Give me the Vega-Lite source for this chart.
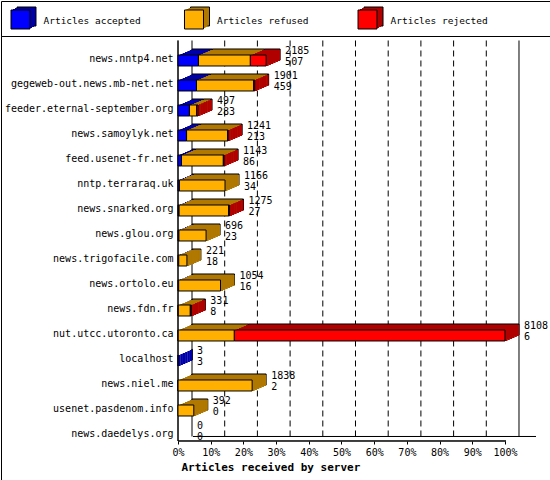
{
  "$schema": "https://vega.github.io/schema/vega-lite/v6.json",
  "padding": 0,
  "spacing": 0,
  "bounds": "flush",
  "background": "white",
  "config": {
    "font": "DejaVu Sans Mono",
    "view": {"stroke": "black", "strokeWidth": 1},
    "axis": {"domainColor": "black", "tickColor": "black", "labelColor": "black", "titleColor": "black", "grid": false}
  },
  "datasets": {
    "types": [
      {"type": "Articles accepted"},
      {"type": "Articles refused"},
      {"type": "Articles rejected"}
    ],
    "segments": [
      {"server": "news.nntp4.net", "type": "Articles accepted", "n": 507},
      {"server": "news.nntp4.net", "type": "Articles refused", "n": 1287},
      {"server": "news.nntp4.net", "type": "Articles rejected", "n": 391},
      {"server": "gegeweb-out.news.mb-net.net", "type": "Articles accepted", "n": 459},
      {"server": "gegeweb-out.news.mb-net.net", "type": "Articles refused", "n": 1419},
      {"server": "gegeweb-out.news.mb-net.net", "type": "Articles rejected", "n": 23},
      {"server": "feeder.eternal-september.org", "type": "Articles accepted", "n": 283},
      {"server": "feeder.eternal-september.org", "type": "Articles refused", "n": 181},
      {"server": "feeder.eternal-september.org", "type": "Articles rejected", "n": 33},
      {"server": "news.samoylyk.net", "type": "Articles accepted", "n": 213},
      {"server": "news.samoylyk.net", "type": "Articles refused", "n": 1018},
      {"server": "news.samoylyk.net", "type": "Articles rejected", "n": 10},
      {"server": "feed.usenet-fr.net", "type": "Articles accepted", "n": 86},
      {"server": "feed.usenet-fr.net", "type": "Articles refused", "n": 1038},
      {"server": "feed.usenet-fr.net", "type": "Articles rejected", "n": 19},
      {"server": "nntp.terraraq.uk", "type": "Articles accepted", "n": 34},
      {"server": "nntp.terraraq.uk", "type": "Articles refused", "n": 1132},
      {"server": "news.snarked.org", "type": "Articles accepted", "n": 27},
      {"server": "news.snarked.org", "type": "Articles refused", "n": 1230},
      {"server": "news.snarked.org", "type": "Articles rejected", "n": 18},
      {"server": "news.glou.org", "type": "Articles accepted", "n": 23},
      {"server": "news.glou.org", "type": "Articles refused", "n": 673},
      {"server": "news.trigofacile.com", "type": "Articles accepted", "n": 18},
      {"server": "news.trigofacile.com", "type": "Articles refused", "n": 203},
      {"server": "news.ortolo.eu", "type": "Articles accepted", "n": 16},
      {"server": "news.ortolo.eu", "type": "Articles refused", "n": 1038},
      {"server": "news.fdn.fr", "type": "Articles accepted", "n": 8},
      {"server": "news.fdn.fr", "type": "Articles refused", "n": 297},
      {"server": "news.fdn.fr", "type": "Articles rejected", "n": 26},
      {"server": "nut.utcc.utoronto.ca", "type": "Articles accepted", "n": 6},
      {"server": "nut.utcc.utoronto.ca", "type": "Articles refused", "n": 1391},
      {"server": "nut.utcc.utoronto.ca", "type": "Articles rejected", "n": 6711},
      {"server": "localhost", "type": "Articles accepted", "n": 3},
      {"server": "news.niel.me", "type": "Articles accepted", "n": 2},
      {"server": "news.niel.me", "type": "Articles refused", "n": 1836},
      {"server": "usenet.pasdenom.info", "type": "Articles refused", "n": 392}
    ],
    "totals": [
      {"server": "news.nntp4.net", "total": 2185, "accepted": 507},
      {"server": "gegeweb-out.news.mb-net.net", "total": 1901, "accepted": 459},
      {"server": "feeder.eternal-september.org", "total": 497, "accepted": 283},
      {"server": "news.samoylyk.net", "total": 1241, "accepted": 213},
      {"server": "feed.usenet-fr.net", "total": 1143, "accepted": 86},
      {"server": "nntp.terraraq.uk", "total": 1166, "accepted": 34},
      {"server": "news.snarked.org", "total": 1275, "accepted": 27},
      {"server": "news.glou.org", "total": 696, "accepted": 23},
      {"server": "news.trigofacile.com", "total": 221, "accepted": 18},
      {"server": "news.ortolo.eu", "total": 1054, "accepted": 16},
      {"server": "news.fdn.fr", "total": 331, "accepted": 8},
      {"server": "nut.utcc.utoronto.ca", "total": 8108, "accepted": 6},
      {"server": "localhost", "total": 3, "accepted": 3},
      {"server": "news.niel.me", "total": 1838, "accepted": 2},
      {"server": "usenet.pasdenom.info", "total": 392, "accepted": 0},
      {"server": "news.daedelys.org", "total": 0, "accepted": 0}
    ],
    "grid": [
      {"v": 810.8}, {"v": 1621.6}, {"v": 2432.4}, {"v": 3243.2}, {"v": 4054},
      {"v": 4864.8}, {"v": 5675.6}, {"v": 6486.4}, {"v": 7297.2}
    ],
    "walls": [{"v": 0}, {"v": 8108}]
  },
  "vconcat": [
    {
      "width": 549,
      "height": 35,
      "data": {"name": "types"},
      "encoding": {
        "x": {
          "field": "type",
          "type": "nominal",
          "scale": {"type": "point", "padding": 0.582, "align": 0.0965},
          "axis": null
        }
      },
      "layer": [
        {
          "mark": {"type": "point", "shape": "square", "size": 361, "filled": true, "opacity": 1, "stroke": "black", "strokeWidth": 1, "xOffset": 6, "yOffset": -2},
          "encoding": {"fill": {"field": "type", "scale": {"domain": ["Articles accepted", "Articles refused", "Articles rejected"], "range": ["#0000a8", "#b07800", "#b00000"]}, "legend": null}}
        },
        {
          "mark": {"type": "point", "shape": "square", "size": 361, "filled": true, "opacity": 1, "strokeWidth": 0, "xOffset": 4, "yOffset": -1},
          "encoding": {"fill": {"field": "type", "legend": null}}
        },
        {
          "mark": {"type": "point", "shape": "square", "size": 361, "filled": true, "opacity": 1, "strokeWidth": 0, "xOffset": 2, "yOffset": 0},
          "encoding": {"fill": {"field": "type", "legend": null}}
        },
        {
          "mark": {"type": "point", "shape": "square", "size": 361, "filled": true, "opacity": 1, "stroke": "black", "strokeWidth": 1, "yOffset": 1},
          "encoding": {"color": {"field": "type", "scale": {"domain": ["Articles accepted", "Articles refused", "Articles rejected"], "range": ["#0000ff", "#ffb000", "#ff0000"]}, "legend": null}}
        },
        {
          "mark": {"type": "text", "align": "left", "baseline": "middle", "dx": 23, "dy": 2, "fontSize": 9.5, "color": "black"},
          "encoding": {"text": {"field": "type"}}
        }
      ]
    },
    {
      "width": 549,
      "height": 444,
      "layer": [
        {
          "data": {"name": "grid"},
          "mark": {"type": "rule", "color": "black", "strokeDash": [6, 4], "xOffset": 14, "yOffset": -13, "y2Offset": 8},
          "encoding": {
            "x": {"field": "v", "type": "quantitative"},
            "y": {"datum": "news.nntp4.net"},
            "y2": {"datum": "news.daedelys.org"}
          }
        },
        {
          "data": {"name": "walls"},
          "mark": {"type": "rule", "color": "black", "xOffset": 14, "yOffset": -13, "y2Offset": 8},
          "encoding": {
            "x": {"field": "v", "type": "quantitative"},
            "y": {"datum": "news.nntp4.net"},
            "y2": {"datum": "news.daedelys.org"}
          }
        },
        {
          "data": {"name": "walls"},
          "mark": {"type": "rule", "color": "black", "xOffset": 15, "x2Offset": 31, "yOffset": 8},
          "encoding": {
            "x": {"datum": 0},
            "x2": {"datum": 8108},
            "y": {"datum": "news.daedelys.org"}
          }
        },
        {
          "data": {"name": "walls"},
          "mark": {"type": "rule", "color": "black", "x2Offset": 1, "yOffset": 12.5},
          "encoding": {
            "x": {"datum": 0},
            "x2": {"datum": 8108},
            "y": {"datum": "news.daedelys.org"}
          }
        },
        {
          "data": {"name": "walls"},
          "mark": {"type": "rule", "color": "black", "yOffset": -13, "y2Offset": 12.5},
          "encoding": {
            "x": {"datum": 0},
            "y": {"datum": "news.nntp4.net"},
            "y2": {"datum": "news.daedelys.org"}
          }
        },
        {
          "data": {"name": "segments"},
          "encoding": {
            "x": {
              "field": "n",
              "type": "quantitative",
              "stack": "zero",
              "title": "Articles received by server",
              "scale": {"domain": [-4388.9, 9223.9], "nice": false, "zero": false},
              "axis": {
                "orient": "bottom",
                "offset": -39,
                "domain": false,
                "values": [0, 810.8, 1621.6, 2432.4, 3243.2, 4054, 4864.8, 5675.6, 6486.4, 7297.2, 8108],
                "labelExpr": "format(datum.value / 8108, '.0%')",
                "labelFontSize": 10,
                "labelPadding": 3,
                "tickSize": 3,
                "labelFlush": false,
                "labelOverlap": false,
                "titleFontSize": 11,
                "titleFontWeight": "bold",
                "titleAlign": "left",
                "titleBaseline": "alphabetic",
                "titleX": 180,
                "titleY": 29
              }
            },
            "y": {
              "field": "server",
              "type": "nominal",
              "title": null,
              "scale": {
                "domain": ["news.nntp4.net", "gegeweb-out.news.mb-net.net", "feeder.eternal-september.org", "news.samoylyk.net", "feed.usenet-fr.net", "nntp.terraraq.uk", "news.snarked.org", "news.glou.org", "news.trigofacile.com", "news.ortolo.eu", "news.fdn.fr", "nut.utcc.utoronto.ca", "localhost", "news.niel.me", "usenet.pasdenom.info", "news.daedelys.org"],
                "paddingInner": 0,
                "paddingOuter": 0.88,
                "align": 0.1136
              },
              "axis": {
                "orient": "left",
                "offset": -177,
                "domain": false,
                "ticks": false,
                "labelFontSize": 10,
                "labelPadding": 5,
                "labelOffset": 6,
                "labelLimit": 220
              }
            },
            "order": {"field": "type"}
          },
          "layer": [
            {
              "mark": {"type": "bar", "size": 11, "stroke": "black", "strokeWidth": 1, "xOffset": 14, "yOffset": 1},
              "encoding": {"fill": {"field": "type", "scale": {"domain": ["Articles accepted", "Articles refused", "Articles rejected"], "range": ["#0000a8", "#b07800", "#b00000"]}, "legend": null}}
            },
            {
              "mark": {"type": "bar", "size": 11, "strokeWidth": 0, "xOffset": 11.667, "yOffset": 2},
              "encoding": {"fill": {"field": "type", "legend": null}}
            },
            {
              "mark": {"type": "bar", "size": 11, "strokeWidth": 0, "xOffset": 9.333, "yOffset": 3},
              "encoding": {"fill": {"field": "type", "legend": null}}
            },
            {
              "mark": {"type": "bar", "size": 11, "strokeWidth": 0, "xOffset": 7, "yOffset": 4},
              "encoding": {"fill": {"field": "type", "legend": null}}
            },
            {
              "mark": {"type": "bar", "size": 11, "strokeWidth": 0, "xOffset": 4.667, "yOffset": 5},
              "encoding": {"fill": {"field": "type", "legend": null}}
            },
            {
              "mark": {"type": "bar", "size": 11, "strokeWidth": 0, "xOffset": 2.333, "yOffset": 6},
              "encoding": {"fill": {"field": "type", "legend": null}}
            }
          ]
        },
        {
          "data": {"name": "segments"},
          "transform": [
            {"joinaggregate": [{"op": "sum", "field": "n", "as": "total"}], "groupby": ["server"]},
            {"window": [{"op": "row_number", "as": "rank"}], "groupby": ["server"], "sort": [{"field": "type", "order": "descending"}]},
            {"filter": "datum.rank == 1"}
          ],
          "encoding": {
            "x": {"field": "total", "type": "quantitative"},
            "x2": {"field": "total"},
            "y": {"field": "server", "type": "nominal"},
            "fill": {"field": "type", "legend": null}
          },
          "layer": [
            {"mark": {"type": "bar", "size": 11, "strokeWidth": 0, "xOffset": 11.667, "x2Offset": 14, "yOffset": 2}},
            {"mark": {"type": "bar", "size": 11, "strokeWidth": 0, "xOffset": 9.333, "x2Offset": 11.8, "yOffset": 3}},
            {"mark": {"type": "bar", "size": 11, "strokeWidth": 0, "xOffset": 7, "x2Offset": 9.5, "yOffset": 4}},
            {"mark": {"type": "bar", "size": 11, "strokeWidth": 0, "xOffset": 4.667, "x2Offset": 7.2, "yOffset": 5}},
            {"mark": {"type": "bar", "size": 11, "strokeWidth": 0, "xOffset": 2.333, "x2Offset": 4.8, "yOffset": 6}},
            {"mark": {"type": "bar", "size": 11, "strokeWidth": 0, "xOffset": 0, "x2Offset": 2.5, "yOffset": 7}}
          ]
        },
        {
          "data": {"name": "segments"},
          "mark": {"type": "bar", "size": 11, "stroke": "black", "strokeWidth": 1, "yOffset": 7, "opacity": 1},
          "encoding": {
            "x": {"field": "n", "type": "quantitative", "stack": "zero"},
            "y": {"field": "server", "type": "nominal"},
            "order": {"field": "type"},
            "color": {"field": "type", "scale": {"domain": ["Articles accepted", "Articles refused", "Articles rejected"], "range": ["#0000ff", "#ffb000", "#ff0000"]}, "legend": null}
          }
        },
        {
          "data": {"name": "totals"},
          "mark": {"type": "text", "align": "left", "baseline": "alphabetic", "dx": 19, "dy": 1, "fontSize": 10, "color": "black"},
          "encoding": {
            "x": {"field": "total", "type": "quantitative"},
            "y": {"field": "server", "type": "nominal"},
            "text": {"field": "total"}
          }
        },
        {
          "data": {"name": "totals"},
          "mark": {"type": "text", "align": "left", "baseline": "alphabetic", "dx": 19, "dy": 12, "fontSize": 10, "color": "black"},
          "encoding": {
            "x": {"field": "total", "type": "quantitative"},
            "y": {"field": "server", "type": "nominal"},
            "text": {"field": "accepted"}
          }
        }
      ]
    }
  ]
}
